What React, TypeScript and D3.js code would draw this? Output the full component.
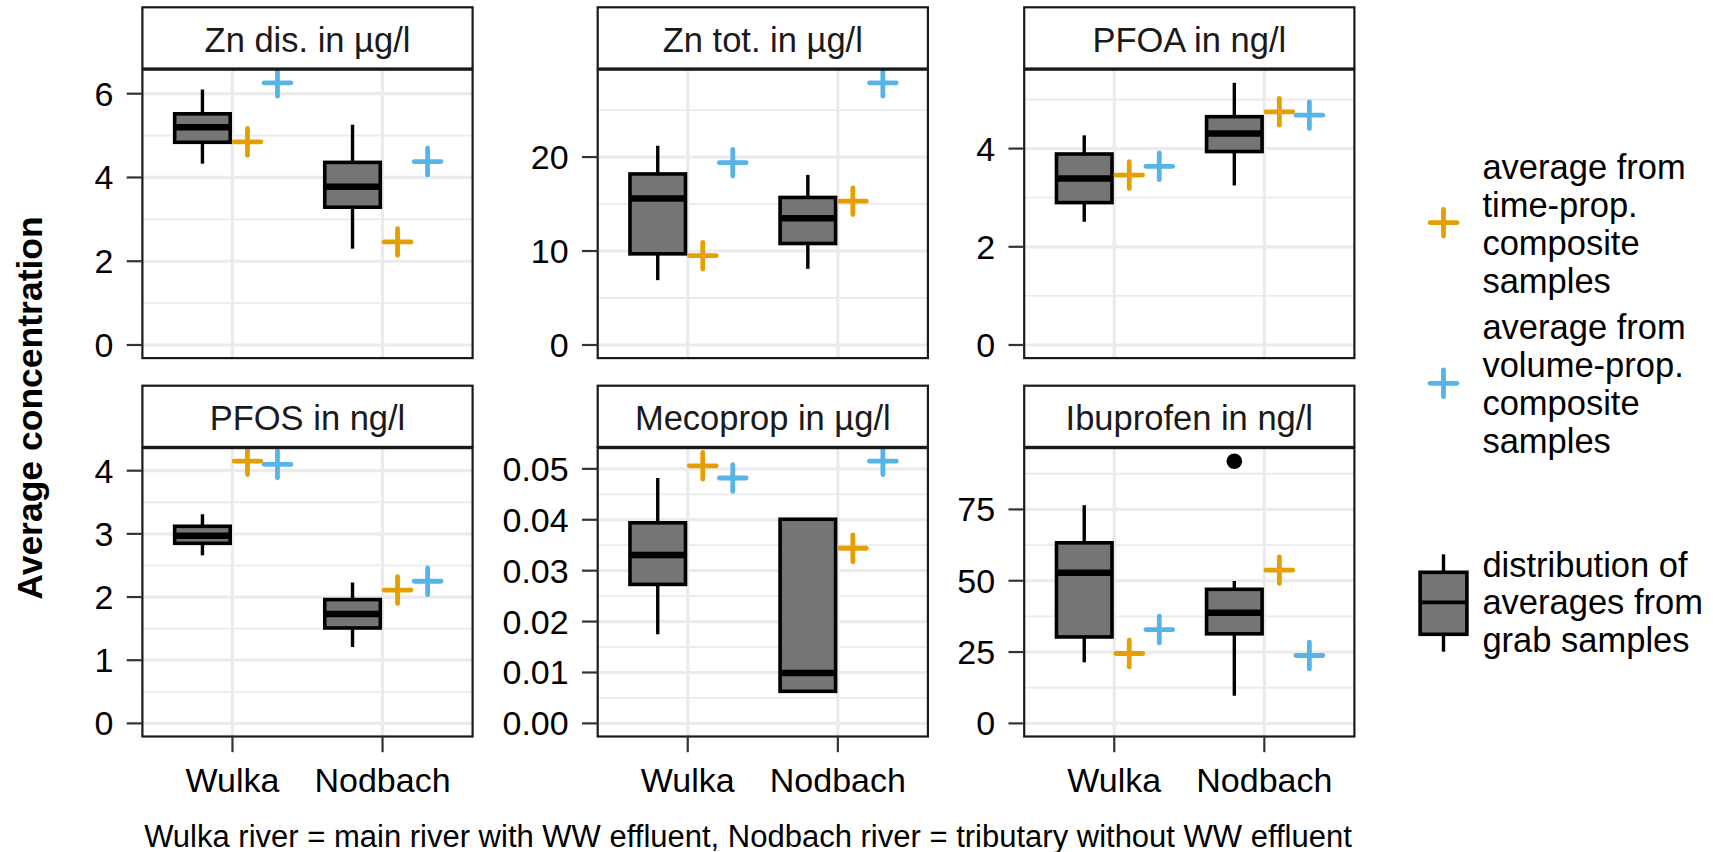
import * as d3 from 'd3'

const rivers = ['Wulka', 'Nodbach']

const panelTitles = [
  'Zn dis. in µg/l',
  'Zn tot. in µg/l',
  'PFOA in ng/l',
  'PFOS in ng/l',
  'Mecoprop in µg/l',
  'Ibuprofen in ng/l',
]

// major / minor y ticks per panel
const majorTicks = [
  [0, 2, 4, 6],
  [0, 10, 20],
  [0, 2, 4],
  [0, 1, 2, 3, 4],
  [0, 0.01, 0.02, 0.03, 0.04, 0.05],
  [0, 25, 50, 75],
]
const minorTicks = [
  [1, 3, 5],
  [5, 15, 25],
  [1, 3, 5],
  [0.5, 1.5, 2.5, 3.5],
  [0.005, 0.015, 0.025, 0.035, 0.045],
  [12.5, 37.5, 62.5, 87.5],
]
const tickFormats = ['d', 'd', 'd', 'd', '.2f', 'd']

// boxplot stats: [lower whisker, q1, median, q3, upper whisker]
const grabWulka = [
  [4.33, 4.84, 5.2, 5.52, 6.1],
  [6.9, 9.7, 15.6, 18.2, 21.2],
  [2.51, 2.9, 3.39, 3.89, 4.27],
  [2.66, 2.85, 2.97, 3.12, 3.31],
  [0.0175, 0.0273, 0.0331, 0.0394, 0.0482],
  [21.4, 30.3, 52.8, 63.3, 76.5],
]
const grabNodbach = [
  [2.3, 3.29, 3.78, 4.36, 5.26],
  [8.1, 10.8, 13.5, 15.7, 18.1],
  [3.25, 3.94, 4.31, 4.65, 5.34],
  [1.21, 1.51, 1.73, 1.96, 2.23],
  [0.0063, 0.0063, 0.0099, 0.0401, 0.0401],
  [9.7, 31.4, 38.8, 47.0, 49.9],
]
const outliersNodbach = [[], [], [], [], [], [91.9]]

// averages from composite samples: [Wulka, Nodbach]
const timeProp = [
  [4.85, 2.46],
  [9.5, 15.3],
  [3.46, 4.75],
  [4.15, 2.11],
  [0.0506, 0.0344],
  [24.5, 53.7],
]
const volumeProp = [
  [6.26, 4.38],
  [19.4, 27.9],
  [3.64, 4.68],
  [4.1, 2.25],
  [0.0482, 0.0515],
  [32.9, 23.8],
]

const legendTime = ['average from', 'time-prop.', 'composite', 'samples']
const legendVolume = ['average from', 'volume-prop.', 'composite', 'samples']
const legendGrab = ['distribution of', 'averages from', 'grab samples']

const W = 1713
const H = 852
const FONT = '"Liberation Sans", Arial, Helvetica, sans-serif'
const ORANGE = '#E69F00'
const BLUE = '#56B4E9'
const BOX_FILL = '#757575'
const GRID = '#EBEBEB'

const colX = [142.4, 597.7, 1024.2]
const panelW = 330.2
const stripTop = [7.3, 385.7]
const stripH = 62.4
const panelH = 288.4

function Cross({ x, y, color }: { x: number; y: number; color: string }) {
  const h = 13.4
  return (
    <g stroke={color} strokeWidth={4.8} strokeLinecap="round">
      <line x1={x - h} x2={x + h} y1={y} y2={y} />
      <line x1={x} x2={x} y1={y - h} y2={y + h} />
    </g>
  )
}

function Box({ cx, hw, s, y }: { cx: number; hw: number; s: number[]; y: (v: number) => number }) {
  return (
    <g>
      <line x1={cx} x2={cx} y1={y(s[4])} y2={y(s[3])} stroke="black" strokeWidth={3.4} />
      <line x1={cx} x2={cx} y1={y(s[1])} y2={y(s[0])} stroke="black" strokeWidth={3.4} />
      <rect x={cx - hw} width={hw * 2} y={y(s[3])} height={Math.max(0.5, y(s[1]) - y(s[3]))}
        fill={BOX_FILL} stroke="black" strokeWidth={3.6} />
      <line x1={cx - hw} x2={cx + hw} y1={y(s[2])} y2={y(s[2])} stroke="black" strokeWidth={6.5} />
    </g>
  )
}

function Panel({ i }: { i: number }) {
  const col = i % 3
  const row = Math.floor(i / 3)
  const x0 = colX[col]
  const sTop = stripTop[row]
  const pTop = sTop + stripH
  const pBot = pTop + panelH

  const x = d3.scalePoint<string>().domain(rivers).range([x0, x0 + panelW]).padding(0.6)
  const step = x.step()
  const all = [
    ...grabWulka[i], ...grabNodbach[i], ...outliersNodbach[i],
    ...timeProp[i], ...volumeProp[i],
  ]
  const maxV = d3.max(all) as number
  const y = d3.scaleLinear().domain([-0.05 * maxV, 1.05 * maxV]).range([pBot, pTop])
  const fmt = d3.format(tickFormats[i])
  const boxes = [grabWulka[i], grabNodbach[i]]

  return (
    <g>
      {/* grid */}
      {minorTicks[i].map(t => (
        <line key={'mi' + t} x1={x0} x2={x0 + panelW} y1={y(t)} y2={y(t)} stroke={GRID} strokeWidth={1.8} />
      ))}
      {majorTicks[i].map(t => (
        <line key={'ma' + t} x1={x0} x2={x0 + panelW} y1={y(t)} y2={y(t)} stroke={GRID} strokeWidth={3.2} />
      ))}
      {rivers.map(r => (
        <line key={'v' + r} x1={x(r)} x2={x(r)} y1={pTop} y2={pBot} stroke={GRID} strokeWidth={3.2} />
      ))}

      {/* boxes */}
      {rivers.map((r, k) => (
        <Box key={'b' + r} cx={(x(r) as number) - 0.2 * step} hw={0.185 * step} s={boxes[k]} y={y} />
      ))}
      {outliersNodbach[i].map((v, k) => (
        <circle key={'o' + k} cx={(x('Nodbach') as number) - 0.2 * step} cy={y(v)} r={7.8} fill="black" />
      ))}
      {rivers.map((r, k) => (
        <Cross key={'t' + r} x={(x(r) as number) + 0.1 * step} y={y(timeProp[i][k])} color={ORANGE} />
      ))}
      {rivers.map((r, k) => (
        <Cross key={'v' + r} x={(x(r) as number) + 0.3 * step} y={y(volumeProp[i][k])} color={BLUE} />
      ))}

      {/* border + strip */}
      <rect x={x0} y={pTop} width={panelW} height={panelH} fill="none" stroke="#1a1a1a" strokeWidth={2.2} />
      <rect x={x0} y={sTop} width={panelW} height={stripH - 1.2} fill="white" stroke="#1a1a1a" strokeWidth={2.2} />
      <text x={x0 + panelW / 2} y={sTop + 44.3} textAnchor="middle" fontSize={34.5} fill="#1a1a1a">
        {panelTitles[i]}
      </text>

      {/* y axis */}
      {majorTicks[i].map(t => (
        <g key={'yt' + t}>
          <line x1={x0 - 15.7} x2={x0} y1={y(t)} y2={y(t)} stroke="#333" strokeWidth={2.2} />
          <text x={x0 - 29} y={y(t) + 12} textAnchor="end" fontSize={34} fill="black">{fmt(t)}</text>
        </g>
      ))}

      {/* x axis on bottom row */}
      {row === 1 && rivers.map(r => (
        <g key={'xt' + r}>
          <line x1={x(r)} x2={x(r)} y1={pBot} y2={pBot + 15.7} stroke="#333" strokeWidth={2.2} />
          <text x={x(r)} y={pBot + 55.5} textAnchor="middle" fontSize={34} fill="black">{r}</text>
        </g>
      ))}
    </g>
  )
}

function LegendText({ lines, y0, gap }: { lines: string[]; y0: number; gap: number }) {
  return (
    <text x={1482.4} fontSize={34.5} fill="black">
      {lines.map((l, k) => (
        <tspan key={k} x={1482.4} y={y0 + k * gap}>{l}</tspan>
      ))}
    </text>
  )
}

export default function App() {
  const lx = 1443.5
  return (
    <div style={{ position: 'absolute', left: 0, top: 0 }}>
      <svg width={W} height={H} style={{ display: 'block', background: 'white', fontFamily: FONT }}>
        <rect width={W} height={H} fill="white" />
        {panelTitles.map((_, i) => <Panel key={i} i={i} />)}

        <text transform="translate(41.5,408) rotate(-90)" textAnchor="middle" fontSize={35.5}
          fontWeight="bold" fill="black">
          Average concentration
        </text>
        <text x={748} y={846.5} textAnchor="middle" fontSize={31} fill="black">
          Wulka river = main river with WW effluent, Nodbach river = tributary without WW effluent
        </text>

        {/* legend */}
        <Cross x={lx} y={222.7} color={ORANGE} />
        <LegendText lines={legendTime} y0={178.5} gap={38} />
        <Cross x={lx} y={383.3} color={BLUE} />
        <LegendText lines={legendVolume} y0={338.5} gap={38} />

        <line x1={lx} x2={lx} y1={554.3} y2={651.7} stroke="black" strokeWidth={3.4} />
        <rect x={lx - 23.4} y={572.3} width={46.8} height={62} fill={BOX_FILL} stroke="black" strokeWidth={3.6} />
        <line x1={lx - 23.4} x2={lx + 23.4} y1={602.3} y2={602.3} stroke="black" strokeWidth={3.8} />
        <LegendText lines={legendGrab} y0={576.5} gap={37.5} />
      </svg>
    </div>
  )
}
